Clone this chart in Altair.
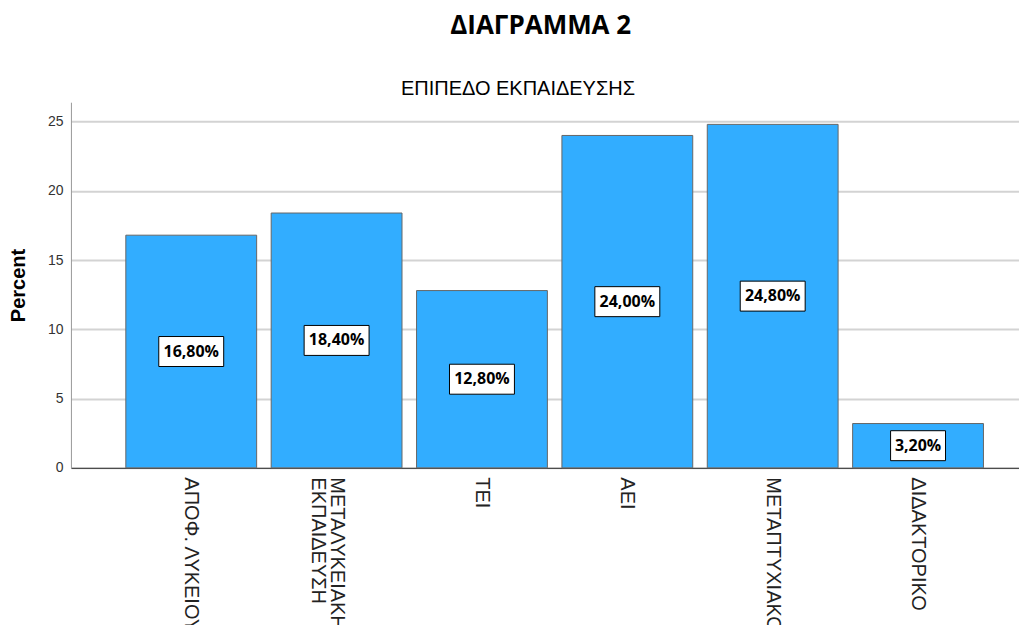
import altair as alt
import pandas as pd

categories = ["ΑΠΟΦ. ΛΥΚΕΙΟΥ", "ΜΕΤΑΛΥΚΕΙΑΚΗ\nΕΚΠΑΙΔΕΥΣΗ", "ΤΕΙ", "ΑΕΙ", "ΜΕΤΑΠΤΥΧΙΑΚΟ", "ΔΙΔΑΚΤΟΡΙΚΟ"]
percents = [16.8, 18.4, 12.8, 24.0, 24.8, 3.2]
y_ticks = [0, 5, 10, 15, 20, 25]

df = pd.DataFrame({"cat": categories, "pct": percents})
df["mid"] = df["pct"] / 2
df["label"] = [f"{v:.2f}".replace(".", ",") + "%" for v in percents]

BAR = "#32adff"
FONT = "Liberation Sans"
LFONT = "Open Sans"

x = alt.X(
    "cat:N",
    sort=categories,
    title=None,
    scale=alt.Scale(paddingInner=0.1, paddingOuter=0.311, align=0.607),
    axis=alt.Axis(
        labelAngle=90,
        labelAlign="left",
        labelBaseline="middle",
        labelPadding=9,
        labelFont=FONT,
        labelFontSize=20,
        labelColor="#222222",
        labelLimit=1000,
        labelLineHeight=19,
        labelExpr="split(datum.label, '\\n')",
        ticks=False,
        grid=False,
        domainColor="#333333",
        domainWidth=1,
    ),
)

y_axis = alt.Axis(
    values=y_ticks,
    ticks=False,
    grid=True,
    gridColor="#d3d3d3",
    gridWidth=2,
    domainColor="#999999",
    domainWidth=1,
    labelFont=FONT,
    labelFontSize=14,
    labelColor="#333333",
    labelPadding=8,
    title="Percent",
    titleFont=FONT,
    titleFontSize=20,
    titleFontWeight="bold",
    titleColor="#000000",
    titlePadding=19,
)

bars = alt.Chart(df).mark_bar(fill=BAR, stroke="#666666", strokeWidth=1).encode(
    x=x,
    y=alt.Y("pct:Q", scale=alt.Scale(domain=[0, 26.4], nice=False), axis=y_axis),
)

boxes_wide = alt.Chart(df).transform_filter("datum.pct >= 10").mark_rect(
    width=65, height=30, fill="white", stroke="black", strokeWidth=1
).encode(x=alt.X("cat:N", sort=categories), y="mid:Q")

boxes_narrow = alt.Chart(df).transform_filter("datum.pct < 10").mark_rect(
    width=55, height=30, fill="white", stroke="black", strokeWidth=1
).encode(x=alt.X("cat:N", sort=categories), y="mid:Q")

texts = alt.Chart(df).mark_text(
    font=LFONT, fontSize=16, fontWeight="bold", color="black", baseline="middle"
).encode(x=alt.X("cat:N", sort=categories), y="mid:Q", text="label:N")

inner = alt.layer(bars, boxes_wide, boxes_narrow, texts).properties(
    width=949,
    height=366,
    title=alt.TitleParams(
        "ΕΠΙΠΕΔΟ ΕΚΠΑΙΔΕΥΣΗΣ",
        font=FONT,
        fontSize=20,
        fontWeight="normal",
        color="#000000",
        anchor="middle",
        dx=-27,
        offset=3,
    ),
)

chart = alt.vconcat(inner).properties(
    title=alt.TitleParams(
        "ΔΙΑΓΡΑΜΜΑ 2",
        font=LFONT,
        fontSize=26,
        fontWeight="bold",
        color="#000000",
        anchor="middle",
        dx=27,
        offset=40,
    ),
    padding={"top": 5, "left": 0, "right": 0, "bottom": 0},
).configure_view(stroke=None).configure_concat(spacing=0)

chart.save("out.html", embed_options={"renderer": "svg", "actions": False})
